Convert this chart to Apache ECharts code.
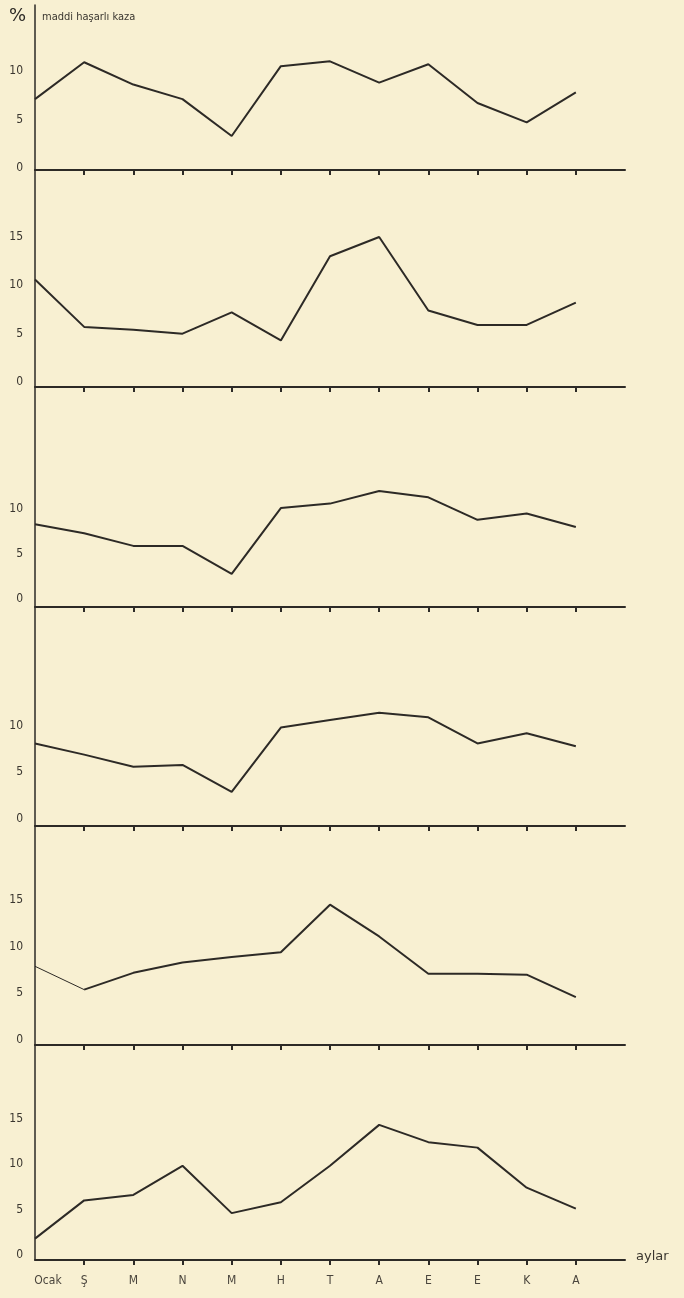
<!DOCTYPE html>
<html>
<head>
<meta charset="utf-8">
<script src="https://cdn.jsdelivr.net/npm/echarts@6/dist/echarts.min.js"></script>
<style>
html,body{margin:0;padding:0;background:#f8f0d2;}
#c{width:684px;height:1298px;}
</style>
</head>
<body>
<div id="c"></div>
<script>
// ---- data ----
var months = ['Ocak', 'Ş', 'M', 'N', 'M', 'H', 'T', 'A', 'E', 'E', 'K', 'A', ''];
var panel1 = [7.1, 10.9, 8.6, 7.1, 3.3, 10.5, 11.0, 8.8, 10.7, 6.7, 4.7, 7.8];
var panel2 = [10.6, 5.7, 5.4, 5.0, 7.2, 4.3, 13.0, 15.0, 7.4, 5.9, 5.9, 8.2];
var panel3 = [8.3, 7.3, 5.9, 5.9, 2.8, 10.1, 10.6, 12.0, 11.3, 8.8, 9.5, 8.0];
var panel4 = [8.1, 6.9, 5.6, 5.8, 2.9, 9.8, 10.6, 11.4, 10.9, 8.1, 9.2, 7.8];
var panel5 = [7.9, 5.4, 7.2, 8.3, 8.9, 9.4, 14.5, 11.1, 7.1, 7.1, 7.0, 4.6];
var panel6 = [1.8, 6.0, 6.6, 9.8, 4.6, 5.8, 9.8, 14.3, 12.4, 11.8, 7.4, 5.1];
var yLabels1 = [0, 5, 10];
var yLabels2 = [0, 5, 10, 15];
var yLabels3 = [0, 5, 10];
var yLabels4 = [0, 5, 10];
var yLabels5 = [0, 5, 10, 15];
var yLabels6 = [0, 5, 10, 15];
var titleUnit = '%';
var titleText = 'maddi haşarlı kaza';
var xAxisName = 'aylar';

// ---- layout (pixels) ----
var panels = [panel1, panel2, panel3, panel4, panel5, panel6];
var yLabelSets = [yLabels1, yLabels2, yLabels3, yLabels4, yLabels5, yLabels6];
var baseY = [170, 387, 607, 826, 1045, 1260];   // baseline pixel
var zeroY = [168, 382, 599, 819, 1040, 1255];   // pixel of value 0
var pxPerUnit = [9.7, 9.67, 9.0, 9.33, 9.33, 9.1];
var topY = [5, 170, 387, 607, 826, 1045];
var LEFT = 35, WIDTH = 590;
var ink = '#2d2a26';
var FONT = 'DejaVu Sans Condensed, DejaVu Sans';

var grids = [], xAxes = [], yAxes = [], series = [];
panels.forEach(function (vals, i) {
  var s = pxPerUnit[i];
  var minV = -(baseY[i] - zeroY[i]) / s;
  var maxV = (zeroY[i] - topY[i]) / s;
  grids.push({left: LEFT, width: WIDTH, top: topY[i], height: baseY[i] - topY[i], containLabel: false});
  var last = i === panels.length - 1;
  xAxes.push({
    type: 'category', gridIndex: i, data: months, boundaryGap: false,
    axisLine: {onZero: false, lineStyle: {color: ink, width: 2}},
    axisTick: {show: true, length: 5, lineStyle: {color: ink, width: 2},
      interval: function (idx) { return idx > 0 && idx < months.length - 1; }},
    axisLabel: {show: last, color: '#4a453d', fontSize: 12, fontFamily: FONT,
      interval: 0, margin: 15,
      formatter: function (v, idx) { return idx === 0 ? '{o|' + v + '}' : v; },
      rich: {o: {fontSize: 12, fontFamily: FONT, color: '#4a453d', padding: [0, 0, 0, 26]}}},
    splitLine: {show: false}
  });
  yAxes.push({
    type: 'value', gridIndex: i, min: minV, max: maxV,
    axisLine: {show: true, lineStyle: {color: ink, width: 1.5}},
    axisTick: {show: false},
    splitLine: {show: false},
    axisLabel: {show: true, customValues: yLabelSets[i], color: '#3a362f', fontSize: 12,
      fontFamily: FONT, margin: 12}
  });
  if (i === 4) {
    series.push({type: 'line', xAxisIndex: i, yAxisIndex: i, symbol: 'none', animation: false,
      data: vals.map(function (v, k) { return k <= 1 ? v : null; }),
      lineStyle: {color: ink, width: 1}});
    series.push({type: 'line', xAxisIndex: i, yAxisIndex: i, symbol: 'none', animation: false,
      data: vals.map(function (v, k) { return k >= 1 ? v : null; }),
      lineStyle: {color: ink, width: 2}});
  } else {
    series.push({type: 'line', xAxisIndex: i, yAxisIndex: i, symbol: 'none', animation: false,
      data: vals, lineStyle: {color: ink, width: 2}});
  }
});

var chart = echarts.init(document.getElementById('c'), null, {renderer: 'canvas'});
chart.setOption({
  backgroundColor: '#f8f0d2',
  animation: false,
  grid: grids, xAxis: xAxes, yAxis: yAxes, series: series,
  graphic: [
    {type: 'text', left: 9, top: 7, style: {text: titleUnit, fontSize: 18, fill: ink, fontFamily: 'DejaVu Sans'}},
    {type: 'text', left: 42, top: 12, style: {text: titleText, fontSize: 11, fill: '#3a362f', fontFamily: FONT}},
    {type: 'text', left: 636, top: 1250, style: {text: xAxisName, fontSize: 13, fill: '#3a362f', fontFamily: 'DejaVu Sans'}}
  ]
});
</script>
</body>
</html>
